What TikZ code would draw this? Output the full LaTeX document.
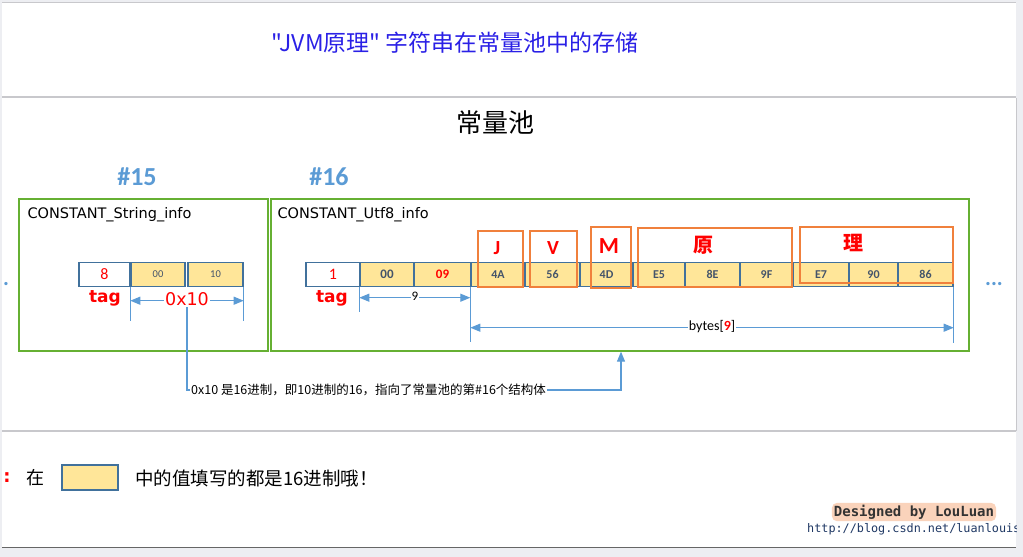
\documentclass[tikz,border=0pt]{standalone}
\usepackage{fontspec}
\setmainfont{Carlito}
\newfontfamily\cjk{Noto Sans CJK SC}
\newfontfamily\dejavu{DejaVu Sans}
\newfontfamily\mono{DejaVu Sans Mono}
\usetikzlibrary{arrows.meta,positioning}
\definecolor{cellyellow}{HTML}{FFE699}
\definecolor{cellblue}{HTML}{41719C}
\definecolor{celltext}{HTML}{44546A}
\definecolor{framegreen}{HTML}{66B032}
\definecolor{frameorange}{HTML}{F0803C}
\definecolor{pointblue}{HTML}{5B9BD5}
\definecolor{titleblue}{HTML}{2A20E6}
\definecolor{pagegray}{HTML}{EDEEF2}
\definecolor{rulegray}{HTML}{C8C8CC}
\definecolor{urlblue}{HTML}{1F3864}

\begin{document}
\begin{tikzpicture}[x=1pt,y=-1pt]
\tikzset{
  bytecell/.style={draw=cellblue,line width=1.4pt,fill=cellyellow,minimum height=24pt,inner sep=0pt,font=\bfseries\fontsize{12}{12}\selectfont,text=celltext},
  tagcell/.style={bytecell,fill=white,text=red,font=\fontsize{16}{16}\selectfont},
  charframe/.style={draw=frameorange,line width=2.8pt,inner sep=0pt},
  charlabel/.style={text=red,font=\bfseries\fontsize{20}{20}\selectfont},
  entrybox/.style={draw=framegreen,line width=1.3pt,inner sep=0pt},
  dimline/.style={pointblue,line width=1.1pt,{Triangle[length=10pt,width=8pt]}-{Triangle[length=10pt,width=8pt]}},
  pointer/.style={pointblue,line width=1.1pt,-{Triangle[length=10pt,width=8pt]}},
  dimtick/.style={pointblue,line width=1pt},
  redtag/.style={text=red,font=\dejavu\bfseries\fontsize{17}{17}\selectfont},
  entryname/.style={anchor=west,font=\dejavu\fontsize{14.5}{14.5}\selectfont},
  entrynum/.style={text=pointblue,font=\bfseries\fontsize{26}{26}\selectfont}
}
\useasboundingbox (0,0) rectangle (1023,557);
% page and panels
\fill[pagegray] (0,0) rectangle (1023,557);
\fill[white] (2,3) rectangle (1016,547);
\draw[rulegray,line width=1.5pt] (2,2.5) -- (1016,2.5);
\draw[rulegray,line width=1.5pt] (2,97) -- (1016,97);
\draw[rulegray,line width=1.5pt] (2,431) -- (1016,431);
\draw[rulegray,line width=0.8pt] (1016,98) -- (1016,431);
\draw[black!60,line width=1.5pt] (2,547.5) -- (1016,547.5);

\node[text=titleblue,font=\cjk\fontsize{23}{23}\selectfont] (title) at (455,43) {"JVM原理"\ 字符串在常量池中的存储};
\node[font=\cjk\fontsize{26}{26}\selectfont] (pool) at (495,123) {常量池};

% entry #15
\node[entrynum] (h15) at (137,177) {\#15};
\node[entrybox,minimum width=249pt,minimum height=152pt] (e15) at (143.5,275) {};
\node[entryname] (t15) at (24,215) {CONSTANT\_String\_info};
\node[tagcell,minimum width=51pt] (c15_tag) at (104.5,274.5) {8};
\node[bytecell,minimum width=54pt,font=\fontsize{10.5}{10.5}\selectfont] (c15_00) at (158,274.5) {00};
\node[bytecell,minimum width=55pt,font=\fontsize{10.5}{10.5}\selectfont] (c15_10) at (215.5,274.5) {10};
\node[redtag] (l15_tag) at (105,298) {tag};
\draw[dimtick] (c15_00.south west) -- ++(0,34);
\draw[dimtick] (c15_10.south east) -- ++(0,34);
\draw[dimline] ([yshift=-13.5pt]c15_00.south west) -- ([yshift=-13.5pt]c15_10.south east);
\node[fill=white,inner sep=1pt,text=red,font=\dejavu\fontsize{17.5}{17.5}\selectfont] (l15_hex) at (187,299) {0x10};

% entry #16
\node[entrynum] (h16) at (329,177) {\#16};
\node[entrybox,minimum width=698pt,minimum height=152pt] (e16) at (620,275) {};
\node[entryname] (t16) at (274,215) {CONSTANT\_Utf8\_info};
\node[tagcell,minimum width=54pt] (c16_tag) at (333,274.5) {1};
\node[bytecell,minimum width=54pt,font=\bfseries\fontsize{13}{13}\selectfont] (c16_00) at (387,274.5) {00};
\node[bytecell,minimum width=57pt,text=red,font=\bfseries\fontsize{13}{13}\selectfont] (c16_09) at (442.5,274.5) {09};
\node[bytecell,minimum width=54pt] (c16_4A) at (498,274.5) {4A};
\node[bytecell,minimum width=55pt] (c16_56) at (552.5,274.5) {56};
\node[bytecell,minimum width=53pt] (c16_4D) at (606.5,274.5) {4D};
\node[bytecell,minimum width=52pt] (c16_E5) at (659,274.5) {E5};
\node[bytecell,minimum width=55pt] (c16_8E) at (712.5,274.5) {8E};
\node[bytecell,minimum width=53pt] (c16_9F) at (766.5,274.5) {9F};
\node[bytecell,minimum width=56pt] (c16_E7) at (821,274.5) {E7};
\node[bytecell,minimum width=49pt] (c16_90) at (873.5,274.5) {90};
\node[bytecell,minimum width=55pt] (c16_86) at (925.5,274.5) {86};

% characters
\node[charframe,minimum width=45pt,minimum height=56pt] (f_J) at (500.5,259) {};
\node[charframe,minimum width=47pt,minimum height=56pt] (f_V) at (553.5,259) {};
\node[charframe,minimum width=40pt,minimum height=61pt] (f_M) at (611,257.5) {};
\node[charframe,minimum width=154pt,minimum height=59pt] (f_yuan) at (715,257.5) {};
\node[charframe,minimum width=153pt,minimum height=56pt] (f_li) at (876.5,255) {};
\node[charlabel] (ch_J) at (497,248) {J};
\node[charlabel] (ch_V) at (553,248) {V};
\node[charlabel,font=\bfseries\fontsize{23}{23}\selectfont] (ch_M) at (609,246) {M};
\node[charlabel,font=\cjk\bfseries\fontsize{20}{20}\selectfont] (ch_yuan) at (703,245) {原};
\node[charlabel,font=\cjk\bfseries\fontsize{20}{20}\selectfont] (ch_li) at (853,243) {理};

\node[redtag] (l16_tag) at (332,298) {tag};
\draw[dimtick] (c16_00.south west) -- ++(0,25);
\draw[dimtick] (c16_4A.south west) -- ++(0,55);
\draw[dimtick] (c16_86.south east) -- ++(0,56);
\draw[dimline] ([yshift=-10.5pt]c16_00.south west) -- ([yshift=-10.5pt]c16_4A.south west);
\node[fill=white,inner sep=1pt,font=\fontsize{13}{13}\selectfont] (l16_len) at (415,296) {9};
\draw[dimline] ([yshift=-40.5pt]c16_4A.south west) -- ([yshift=-40.5pt]c16_86.south east);
\node[fill=white,inner sep=1pt,font=\fontsize{14}{14}\selectfont] (l16_bytes) at (712,327) {bytes[\textcolor{red}{\textbf{9}}]};

\node[anchor=base,text=pointblue,font=\bfseries\fontsize{22}{22}\selectfont] (more) at (994,285) {...};
\node[anchor=base,text=pointblue,font=\bfseries\fontsize{22}{22}\selectfont] (less) at (6,285) {.};

% index pointer
\coordinate (c_bend) at (621,390);
\draw[pointer] (l15_hex.south) |- (c_bend) -- (e16.south -| c_bend);
\node[anchor=west,fill=white,inner sep=1pt,font=\cjk\fontsize{12.5}{12.5}\selectfont] (note) at (190,390) {0x10 是16进制，即10进制的16，指向了常量池的第\#16个结构体};

% legend
\node[text=red,font=\dejavu\bfseries\fontsize{18}{18}\selectfont] (colon) at (7,478) {:};
\node[font=\cjk\fontsize{18}{18}\selectfont] (lg_at) at (35,478) {在};
\node[bytecell,line width=1.2pt,minimum width=56pt,minimum height=25pt] (lg_cell) at (90,477.5) {};
\node[anchor=west,inner sep=0pt,font=\cjk\fontsize{18.5}{18.5}\selectfont] (lg_text) at (135,478) {中的值填写的都是16进制哦！};

\node[fill=frameorange!35,rounded corners=5pt,inner sep=2pt,text=black!80,font=\mono\bfseries\fontsize{14}{14}\selectfont] (credit) at (914,512) {Designed by LouLuan};
\node[anchor=west,inner sep=0pt,text=urlblue,font=\mono\fontsize{11.8}{11.8}\selectfont] (url) at (807,529) {http://blog.csdn.net/luanlouis};
\fill[pagegray] (1017,0) rectangle (1023,557);
\end{tikzpicture}
\end{document}
